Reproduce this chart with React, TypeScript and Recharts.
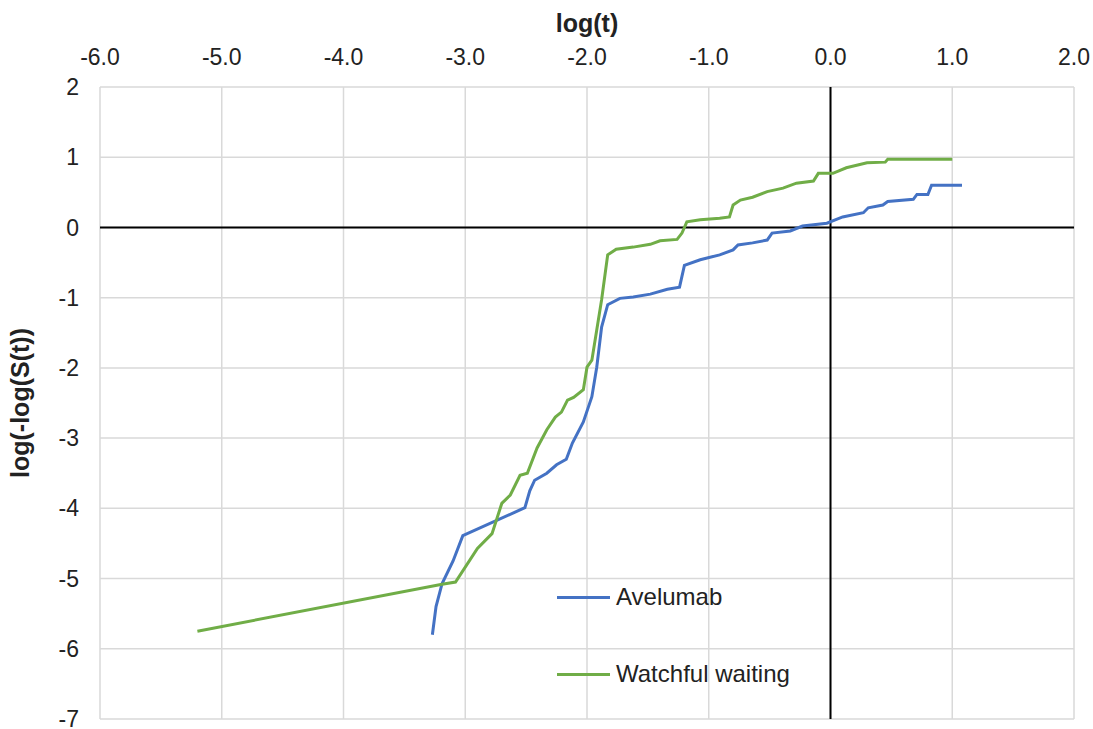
import React from 'react'
import {
  LineChart,
  Line,
  XAxis,
  YAxis,
  CartesianGrid,
  ReferenceLine
} from 'recharts'

// log(t) ticks and log(-log(S(t))) ticks
const xTicks = [-6, -5, -4, -3, -2, -1, 0, 1, 2]
const yTicks = [-7, -6, -5, -4, -3, -2, -1, 0, 1, 2]

// Avelumab curve
const avelumabX = [-3.27, -3.24, -3.19, -3.10, -3.02, -2.51, -2.47, -2.43, -2.33, -2.25, -2.17, -2.12, -2.03, -1.96, -1.92, -1.88, -1.83, -1.73, -1.62, -1.48, -1.34, -1.24, -1.20, -1.07, -0.91, -0.80, -0.76, -0.64, -0.52, -0.48, -0.33, -0.23, -0.03, 0.10, 0.27, 0.31, 0.43, 0.47, 0.68, 0.71, 0.80, 0.83, 1.08]
const avelumabY = [-5.80, -5.40, -5.07, -4.75, -4.39, -3.99, -3.75, -3.60, -3.50, -3.38, -3.30, -3.07, -2.77, -2.41, -1.99, -1.42, -1.10, -1.01, -0.99, -0.95, -0.88, -0.85, -0.54, -0.46, -0.39, -0.32, -0.25, -0.22, -0.18, -0.08, -0.05, 0.02, 0.06, 0.15, 0.21, 0.28, 0.32, 0.37, 0.40, 0.47, 0.47, 0.60, 0.60]

// Watchful waiting curve
const watchfulX = [-5.20, -3.19, -3.08, -2.90, -2.78, -2.70, -2.63, -2.55, -2.49, -2.41, -2.33, -2.26, -2.21, -2.16, -2.11, -2.03, -2.00, -1.96, -1.92, -1.88, -1.83, -1.76, -1.62, -1.48, -1.40, -1.26, -1.22, -1.18, -1.07, -0.91, -0.83, -0.80, -0.74, -0.64, -0.52, -0.39, -0.28, -0.14, -0.10, 0.02, 0.13, 0.30, 0.45, 0.47, 1.00]
const watchfulY = [-5.75, -5.08, -5.05, -4.57, -4.36, -3.93, -3.81, -3.53, -3.50, -3.14, -2.88, -2.70, -2.63, -2.46, -2.42, -2.31, -1.99, -1.89, -1.46, -1.03, -0.39, -0.31, -0.28, -0.24, -0.19, -0.17, -0.08, 0.08, 0.11, 0.13, 0.15, 0.32, 0.39, 0.43, 0.51, 0.56, 0.63, 0.66, 0.77, 0.77, 0.85, 0.92, 0.93, 0.97, 0.97]

const toPoints = (xs: number[], ys: number[]) => xs.map((x, i) => ({ x, y: ys[i] }))

const avelumab = toPoints(avelumabX, avelumabY)
const watchful = toPoints(watchfulX, watchfulY)

const BLUE = '#4472C4'
const GREEN = '#70AD47'
const FONT = '"Liberation Sans", Arial, sans-serif'

const legendItems = [
  { name: 'Avelumab', color: BLUE, top: 583 },
  { name: 'Watchful waiting', color: GREEN, top: 660 }
]

export default function App() {
  return (
    <div style={{ position: 'fixed', left: 0, top: 0, width: 1093, height: 729, background: '#fff' }}>
      <LineChart width={1093} height={729} margin={{ top: 0, right: 19, bottom: 10, left: 10 }}>
        <CartesianGrid stroke="#d9d9d9" strokeWidth={1.5} />
        <XAxis
          type="number"
          dataKey="x"
          orientation="top"
          height={87}
          domain={[-6, 2]}
          ticks={xTicks}
          interval={0}
          tickFormatter={(v: number) => v.toFixed(1)}
          axisLine={false}
          tickLine={false}
          tickMargin={16}
          tick={{ fontSize: 23, fill: '#222', fontFamily: FONT }}
          label={{ value: 'log(t)', position: 'insideTop', offset: 14, style: { fontSize: 25, fontWeight: 700, fill: '#222', fontFamily: FONT } }}
        />
        <YAxis
          type="number"
          dataKey="y"
          width={90}
          domain={[-7, 2]}
          ticks={yTicks}
          interval={0}
          axisLine={false}
          tickLine={false}
          tickMargin={15}
          tick={{ fontSize: 23, fill: '#222', fontFamily: FONT }}
          label={{ value: 'log(-log(S(t))', angle: -90, position: 'insideLeft', offset: 10, style: { textAnchor: 'middle', fontSize: 25, fontWeight: 700, fill: '#222', fontFamily: FONT } }}
        />
        <ReferenceLine x={0} stroke="#000" strokeWidth={2} />
        <ReferenceLine y={0} stroke="#000" strokeWidth={2} />
        <Line data={avelumab} dataKey="y" name="Avelumab" type="linear" stroke={BLUE} strokeWidth={3} dot={false} isAnimationActive={false} />
        <Line data={watchful} dataKey="y" name="Watchful waiting" type="linear" stroke={GREEN} strokeWidth={3} dot={false} isAnimationActive={false} />
      </LineChart>
      {legendItems.map(item => (
        <div
          key={item.name}
          style={{ position: 'absolute', left: 557, top: item.top, height: 28, display: 'flex', alignItems: 'center', fontFamily: FONT, fontSize: 24, color: '#222', whiteSpace: 'nowrap' }}
        >
          <div style={{ width: 53, height: 3, background: item.color, marginRight: 6 }} />
          <span>{item.name}</span>
        </div>
      ))}
    </div>
  )
}
